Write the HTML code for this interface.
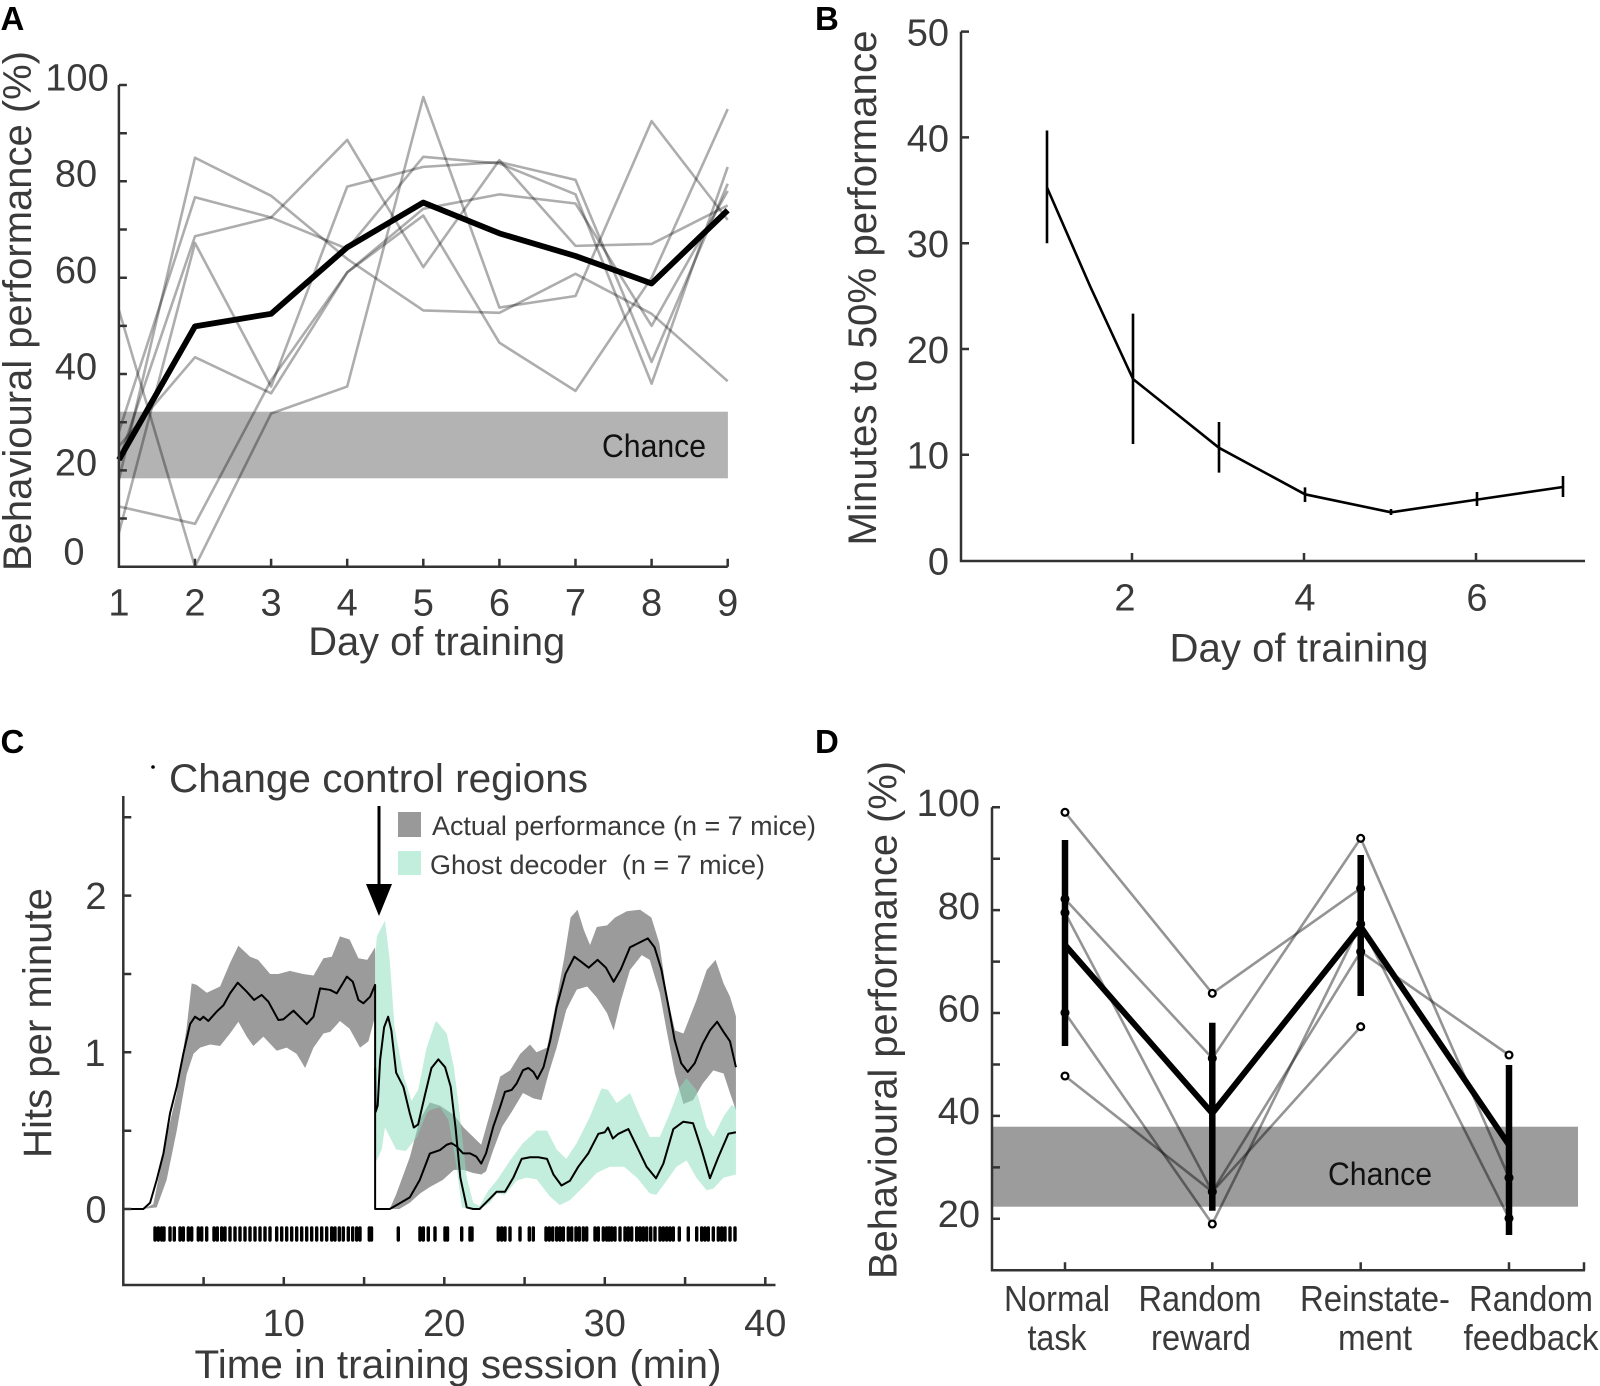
<!DOCTYPE html>
<html><head><meta charset="utf-8"><style>
html,body{margin:0;padding:0;background:#fff;}
svg{display:block;}
text{font-family:"Liberation Sans",Arial,sans-serif;fill:#3a3a3a;}
.pl{font-weight:bold;fill:#000;font-size:33px;}
.tk{font-size:38px;}
.lb{font-size:40px;}
.ax{stroke:#333;stroke-width:2.5;fill:none;}
</style></head><body>
<svg width="1600" height="1386" viewBox="0 0 1600 1386" xmlns="http://www.w3.org/2000/svg">
<rect width="1600" height="1386" fill="#fff"/>

<!-- ================= PANEL A ================= -->
<text class="pl" x="0.5" y="30">A</text>
<rect x="118.9" y="411.7" width="609" height="66.6" fill="#b3b3b3"/>
<text x="654" y="457" text-anchor="middle" font-size="32" textLength="104" lengthAdjust="spacingAndGlyphs" style="fill:#111">Chance</text>
<g transform="matrix(76.1,0,0,-4.817,42.8,566.7)" fill="none" stroke="#000" stroke-opacity="0.32" stroke-width="2.6" stroke-linejoin="round">
<polyline vector-effect="non-scaling-stroke" points="1,53.3 2,0 3,31.8 4,37.4 5,97.5 6,53.8 7,56.2 8,92.5 9,72"/>
<polyline vector-effect="non-scaling-stroke" points="1,12.5 2,8.9 3,38.7 4,61.1 5,74.3 6,77.3 7,75.4 8,50 9,78"/>
<polyline vector-effect="non-scaling-stroke" points="1,18 2,84.9 3,77 4,63.9 5,53.2 6,52.7 7,60.8 8,52.5 9,38.5"/>
<polyline vector-effect="non-scaling-stroke" points="1,28 2,76.7 3,72.5 4,88.6 5,62.2 6,84.4 7,66.6 8,67 9,75"/>
<polyline vector-effect="non-scaling-stroke" points="1,22 2,68.6 3,72.5 4,66 5,85.1 6,83.7 7,77.3 8,38 9,83"/>
<polyline vector-effect="non-scaling-stroke" points="1,7 2,67.2 3,37.4 4,78.9 5,83 6,84 7,80.3 8,42.5 9,79.5"/>
<polyline vector-effect="non-scaling-stroke" points="1,25 2,43.5 3,36 4,61.1 5,72.9 6,46.5 7,36.5 8,60 9,95"/>
<polyline vector-effect="non-scaling-stroke" stroke="#000" stroke-opacity="1" stroke-width="5.8" points="1,22.2 2,49.9 3,52.5 4,66.3 5,75.6 6,69.2 7,64.5 8,58.8 9,74"/>
</g>
<path class="ax" d="M118.9 85V566.7H727.7"/>
<path class="ax" d="M118.9 85h8M118.9 133.2h8M118.9 181.3h8M118.9 229.5h8M118.9 277.7h8M118.9 325.9h8M118.9 374h8M118.9 422.2h8M118.9 470.4h8M118.9 518.5h8
M195 566.7v-8M271.1 566.7v-8M347.2 566.7v-8M423.3 566.7v-8M499.4 566.7v-8M575.5 566.7v-8M651.6 566.7v-8M727.7 566.7v-8"/>
<g class="tk" text-anchor="middle">
<text x="77" y="90.5">100</text><text x="76" y="186.5">80</text><text x="76" y="283">60</text><text x="76" y="379.5">40</text><text x="76" y="475.5">20</text><text x="74" y="564.5">0</text>
<text x="118.9" y="615.5">1</text><text x="195" y="615.5">2</text><text x="271.1" y="615.5">3</text><text x="347.2" y="615.5">4</text><text x="423.3" y="615.5">5</text><text x="499.4" y="615.5">6</text><text x="575.5" y="615.5">7</text><text x="651.6" y="615.5">8</text><text x="727.7" y="615.5">9</text>
</g>
<text class="lb" x="436.7" y="655" text-anchor="middle" textLength="257" lengthAdjust="spacingAndGlyphs">Day of training</text>
<text class="lb" transform="translate(31,311) rotate(-90)" text-anchor="middle" textLength="520" lengthAdjust="spacingAndGlyphs">Behavioural performance (%)</text>

<!-- ================= PANEL B ================= -->
<text class="pl" x="815" y="30">B</text>
<path class="ax" d="M961 31.6V561H1585"/>
<path class="ax" d="M961 31.6h8M961 137.4h8M961 243.2h8M961 349h8M961 454.8h8M1132 561v-8M1304 561v-8M1476 561v-8"/>
<g fill="none" stroke="#000" stroke-width="2.6" stroke-linejoin="round">
<polyline points="1047,187.5 1090,286 1133,379 1219,447.8 1305,494.3 1391,512.3 1477,499.6 1563,487"/>
<path d="M1047 130.5V243.3M1133 313.6V444M1219 422V472.6M1305 487.4V502M1391 509V515M1477 492V506M1563 476V497"/>
</g>
<g class="tk">
<text x="949" y="45.5" text-anchor="end">50</text><text x="949" y="151.3" text-anchor="end">40</text><text x="949" y="257" text-anchor="end">30</text><text x="949" y="363" text-anchor="end">20</text><text x="949" y="468.7" text-anchor="end">10</text><text x="949" y="574.5" text-anchor="end">0</text>
<text x="1125" y="610.5" text-anchor="middle">2</text><text x="1305" y="610.5" text-anchor="middle">4</text><text x="1477" y="610.5" text-anchor="middle">6</text>
</g>
<text class="lb" x="1299" y="661.5" text-anchor="middle" textLength="259" lengthAdjust="spacingAndGlyphs">Day of training</text>
<text class="lb" transform="translate(876,288) rotate(-90)" text-anchor="middle" textLength="515" lengthAdjust="spacingAndGlyphs">Minutes to 50% performance</text>

<!-- ================= PANEL C ================= -->
<text class="pl" x="0.5" y="753">C</text>
<circle cx="153" cy="767" r="1.8" fill="#000"/>
<text class="lb" x="169" y="792" textLength="419" lengthAdjust="spacingAndGlyphs">Change control regions</text>
<g transform="matrix(16.05,0,0,-156.7,123.3,1209)">
<polygon fill="#9b9b9b" points="1.2,0 1.87,0.03 2.3,0.25 2.7,0.46 3.33,0.74 3.95,1.16 4.26,1.44 4.57,1.43 5.2,1.38 6.03,1.42 6.65,1.57 7.17,1.68 7.9,1.61 8.4,1.59 9.15,1.5 9.66,1.5 10.38,1.52 11.2,1.5 11.85,1.49 12.47,1.6 12.99,1.61 13.5,1.74 14.1,1.72 14.65,1.6 15.2,1.59 15.69,1.67 15.69,1.23 15.27,1.07 14.75,1.03 14.1,1.15 13.5,1.2 12.89,1.13 12.47,1.12 11.85,1.03 11.33,0.9 10.8,0.99 10.18,1.03 9.56,1.01 8.73,1.1 8.1,1.04 7.69,1.1 7.17,1.195 6.65,1.12 6.03,1.04 5.41,1.05 4.78,1.03 4.37,0.99 3.95,0.86 3.33,0.5 2.7,0.185 2.08,0.01 1.2,0"/>
<polygon fill="#9b9b9b" points="16.6,0 17.0,0.093 17.85,0.33 18.47,0.57 19.1,0.68 19.73,0.66 20.6,0.6 21.2,0.52 21.8,0.46 22.3,0.41 22.85,0.61 23.48,0.845 24.1,0.885 24.73,0.99 25.34,1.05 25.75,1.0 26.4,1.03 26.8,1.23 27.45,1.59 27.87,1.86 28.3,1.91 28.7,1.78 29.08,1.685 29.5,1.8 30.14,1.81 30.64,1.86 31.37,1.9 32.2,1.91 32.9,1.86 33.4,1.695 33.85,1.376 34.37,1.14 34.9,1.12 35.7,1.33 36.35,1.525 36.9,1.59 37.4,1.44 37.8,1.355 38.17,1.23 38.17,0.63 37.8,0.74 37.4,0.865 36.76,0.885 36.1,0.8 35.5,0.695 34.9,0.67 34.37,0.865 33.85,1.14 33.43,1.376 32.8,1.59 32.3,1.62 31.57,1.525 31.0,1.33 30.55,1.14 30.14,1.25 29.5,1.35 28.9,1.42 28.25,1.4 27.6,1.27 27.0,1.03 26.5,0.865 26.05,0.695 25.55,0.706 24.9,0.74 24.2,0.62 23.6,0.525 23.05,0.376 22.6,0.24 22.3,0.22 21.8,0.23 21.2,0.25 20.6,0.25 19.9,0.185 19.1,0.14 18.5,0.1 17.85,0.04 17.2,0 16.6,0"/>
<polygon fill="rgb(140,220,190)" fill-opacity="0.52" points="15.69,1.6 15.8,1.74 16.3,1.84 16.6,1.59 16.9,1.16 17.45,0.86 17.95,0.69 18.37,0.76 18.9,1.03 19.4,1.18 19.5,1.2 20.15,1.12 20.6,0.905 21.0,0.57 21.4,0.2 21.8,0.04 22.2,0.02 22.75,0.12 23.26,0.18 24.1,0.31 24.9,0.42 25.75,0.5 26.4,0.5 27.0,0.38 27.6,0.32 28.25,0.42 29.08,0.59 29.8,0.77 30.2,0.76 30.74,0.676 31.57,0.74 32.2,0.59 32.8,0.46 33.43,0.46 34.05,0.61 34.68,0.78 35.1,0.834 35.7,0.76 36.35,0.52 36.76,0.46 37.4,0.59 37.9,0.664 38.17,0.65 38.17,0.22 37.4,0.2 36.76,0.13 36.35,0.12 35.7,0.2 35.1,0.31 34.47,0.27 33.85,0.18 33.2,0.09 32.8,0.1 32.0,0.2 31.2,0.27 30.3,0.27 29.49,0.23 28.66,0.14 27.83,0.057 27.2,0.025 26.58,0.08 25.75,0.19 25.1,0.2 24.5,0.18 23.78,0.09 23.26,0.1 22.85,0.04 22.2,0 21.6,0 21.1,0.01 20.7,0.31 20.25,0.57 19.73,0.65 19.1,0.63 18.9,0.61 18.3,0.46 17.6,0.37 17.0,0.38 16.6,0.46 16.3,0.52 16.1,0.38 15.8,0.31 15.69,0.31"/>
<g fill="none" stroke="#000" stroke-width="2" stroke-linejoin="round">
<polyline vector-effect="non-scaling-stroke" points="0,0 1.25,0 1.67,0.04 2.08,0.185 2.5,0.354 2.91,0.61 3.33,0.78 3.74,0.99 4.16,1.18 4.47,1.227 4.78,1.206 4.99,1.227 5.3,1.2 5.82,1.26 6.24,1.3 6.65,1.376 7.13,1.444 7.69,1.387 8.15,1.334 8.62,1.366 9.04,1.323 9.66,1.206 9.97,1.21 10.6,1.266 11.43,1.18 11.85,1.227 12.26,1.408 12.89,1.398 13.3,1.376 13.93,1.483 14.3,1.45 14.65,1.334 14.96,1.313 15.38,1.355 15.69,1.43 15.69,0 16.6,0 17.2,0.035 17.85,0.074 18.47,0.185 19.1,0.354 19.73,0.376 20.15,0.41 20.45,0.42 20.76,0.4 21.17,0.355 21.6,0.355 22.0,0.334 22.3,0.29 22.6,0.355 23.05,0.525 23.48,0.652 23.78,0.748 24.2,0.76 24.5,0.8 24.9,0.885 25.23,0.9 25.55,0.875 25.8,0.83 26.18,0.905 26.6,1.075 27.0,1.29 27.55,1.5 28.1,1.61 28.5,1.58 29.0,1.54 29.55,1.59 30.07,1.54 30.55,1.45 31.0,1.53 31.57,1.67 32.06,1.695 32.68,1.727 33.1,1.67 33.52,1.53 33.93,1.313 34.35,1.08 34.76,0.93 35.17,0.875 35.6,0.93 36.1,1.055 36.55,1.14 37.0,1.195 37.4,1.13 37.8,1.07 38.17,0.905"/>
<polyline vector-effect="non-scaling-stroke" points="15.69,0.9 15.72,0.62 15.85,0.66 16.0,0.95 16.25,1.16 16.5,1.227 16.7,1.14 17.0,0.87 17.45,0.78 17.85,0.61 18.1,0.52 18.37,0.54 18.8,0.73 19.2,0.9 19.63,0.955 20.05,0.905 20.4,0.78 20.7,0.52 21.0,0.2 21.4,0.01 21.8,0 22.2,0 22.75,0.057 23.26,0.11 23.78,0.11 24.3,0.2 24.82,0.32 25.34,0.33 25.86,0.33 26.4,0.32 26.8,0.22 27.3,0.15 27.83,0.18 28.35,0.27 28.97,0.355 29.6,0.48 30.0,0.49 30.2,0.52 30.5,0.45 30.85,0.48 31.47,0.51 31.99,0.4 32.6,0.27 33.19,0.196 33.65,0.29 34.27,0.51 34.89,0.557 35.5,0.547 36.04,0.376 36.55,0.196 37.07,0.33 37.7,0.48 38.17,0.49"/>
</g>
</g>
<path fill="none" stroke="#000" stroke-width="3.4" stroke-linecap="round" d="M155 1228V1240M158.3 1228V1240M161.7 1228V1240M164 1228V1240M170 1228V1240M174.3 1228V1240M180 1228V1240M183.3 1228V1240M188.3 1228V1240M191.7 1228V1240M198.3 1228V1240M201.7 1228V1240M206.7 1228V1240M214 1228V1240M217.3 1228V1240M221.7 1228V1240M225 1228V1240M230 1228V1240M235 1228V1240M240 1228V1240M245 1228V1240M250 1228V1240M255 1228V1240M260 1228V1240M265 1228V1240M270 1228V1240M276.7 1228V1240M281.7 1228V1240M286.7 1228V1240M291.7 1228V1240M296.7 1228V1240M301.7 1228V1240M306.7 1228V1240M311.7 1228V1240M316.7 1228V1240M321.7 1228V1240M326.7 1228V1240M331.7 1228V1240M335 1228V1240M339.3 1228V1240M343.3 1228V1240M348.3 1228V1240M352.7 1228V1240M356.7 1228V1240M360 1228V1240M369.3 1228V1240M371.5 1228V1240M398.3 1228V1240M420 1228V1240M423.3 1228V1240M428.3 1228V1240M435 1228V1240M445 1228V1240M447.5 1228V1240M461.7 1228V1240M470 1228V1240M472 1228V1240M498.3 1228V1240M501.7 1228V1240M505 1228V1240M510 1228V1240M520 1228V1240M529.3 1228V1240M533.3 1228V1240M546 1228V1240M549.3 1228V1240M552.7 1228V1240M556.7 1228V1240M560 1228V1240M563.3 1228V1240M568.3 1228V1240M571.7 1228V1240M576 1228V1240M579.3 1228V1240M583.3 1228V1240M586.7 1228V1240M595 1228V1240M598.3 1228V1240M603.3 1228V1240M606.7 1228V1240M609 1228V1240M611.7 1228V1240M615 1228V1240M620 1228V1240M625 1228V1240M628.3 1228V1240M631.7 1228V1240M636.7 1228V1240M640 1228V1240M643.3 1228V1240M646.7 1228V1240M650.7 1228V1240M655 1228V1240M660 1228V1240M663.3 1228V1240M666.7 1228V1240M670 1228V1240M673.3 1228V1240M679.3 1228V1240M688.3 1228V1240M696.7 1228V1240M701.7 1228V1240M705 1228V1240M708.3 1228V1240M713.3 1228V1240M718.3 1228V1240M721.7 1228V1240M725 1228V1240M730 1228V1240M735 1228V1240"/>
<!-- arrow -->
<path d="M379 806V888" stroke="#000" stroke-width="3"/>
<polygon points="366,884 392,884 379,916" fill="#000"/>
<!-- legend -->
<rect x="398" y="812" width="23" height="25" fill="#999"/>
<rect x="398" y="851" width="23" height="24" fill="#c2eedd"/>
<text x="432" y="835" font-size="27" textLength="384" lengthAdjust="spacingAndGlyphs">Actual performance (n = 7 mice)</text>
<text x="430" y="874" font-size="27" textLength="335" lengthAdjust="spacingAndGlyphs" style="white-space:pre">Ghost decoder  (n = 7 mice)</text>
<!-- axes -->
<path class="ax" d="M123.3 796V1285H775.5"/>
<path class="ax" d="M123.3 1209h8M123.3 1130.7h8M123.3 1052.3h8M123.3 974h8M123.3 895.6h8M123.3 817.3h8
M203.6 1285v-8M283.8 1285v-8M364.1 1285v-8M444.3 1285v-8M524.6 1285v-8M604.8 1285v-8M685.1 1285v-8M765.3 1285v-8"/>
<g class="tk" text-anchor="middle">
<text x="96" y="909">2</text><text x="95" y="1065.8">1</text><text x="96" y="1222.5">0</text>
<text x="283.8" y="1336">10</text><text x="444.3" y="1336">20</text><text x="604.8" y="1336">30</text><text x="765.3" y="1336">40</text>
</g>
<text class="lb" x="458" y="1378" text-anchor="middle" textLength="527" lengthAdjust="spacingAndGlyphs">Time in training session (min)</text>
<text class="lb" transform="translate(51,1023) rotate(-90)" text-anchor="middle" textLength="270" lengthAdjust="spacingAndGlyphs">Hits per minute</text>

<!-- ================= PANEL D ================= -->
<text class="pl" x="815" y="753">D</text>
<rect x="992" y="1126.7" width="586" height="80" fill="#9c9c9c"/>
<text x="1380" y="1185" text-anchor="middle" font-size="32" textLength="104" lengthAdjust="spacingAndGlyphs" style="fill:#111">Chance</text>
<g fill="none" stroke="#000" stroke-opacity="0.42" stroke-width="2.6" stroke-linejoin="round">
<polyline points="1065,812.3 1212.3,993.3 1360.7,888.3"/>
<polyline points="1065,899 1212.3,1058.3 1360.7,838.3 1509,1177.7"/>
<polyline points="1065,912.7 1212.3,1191.7 1360.7,951.7 1509,1055"/>
<polyline points="1065,1012.7 1212.3,1224 1360.7,924 1509,1218.3"/>
<polyline points="1065,1076 1212.3,1191.7 1360.7,1026.7"/>
</g>
<g fill="#fff" stroke="#000" stroke-width="2.3">
<circle cx="1065" cy="812.3" r="3.4"/><circle cx="1065" cy="899" r="3.4"/><circle cx="1065" cy="912.7" r="3.4"/><circle cx="1065" cy="1012.7" r="3.4"/><circle cx="1065" cy="1076" r="3.4"/>
<circle cx="1212.3" cy="993.3" r="3.4"/><circle cx="1212.3" cy="1058.3" r="3.4"/><circle cx="1212.3" cy="1191.7" r="3.4"/><circle cx="1212.3" cy="1224" r="3.4"/>
<circle cx="1360.7" cy="838.3" r="3.4"/><circle cx="1360.7" cy="888.3" r="3.4"/><circle cx="1360.7" cy="924" r="3.4"/><circle cx="1360.7" cy="951.7" r="3.4"/><circle cx="1360.7" cy="1026.7" r="3.4"/>
<circle cx="1509" cy="1055" r="3.4"/><circle cx="1509" cy="1177.7" r="3.4"/><circle cx="1509" cy="1218.3" r="3.4"/>
</g>
<polyline points="1065,945 1212.3,1113.3 1360.7,926.7 1509,1145" fill="none" stroke="#000" stroke-width="6" stroke-linejoin="miter"/>
<path d="M1065 840V1046M1212.3 1022.7V1210.7M1360.7 855V996M1509 1065V1235" stroke="#000" stroke-width="6.5"/>
<path class="ax" d="M992 807.2V1270.3H1585"/>
<path class="ax" d="M992 807.2h8M992 858.7h8M992 910.1h8M992 961.6h8M992 1013h8M992 1064.5h8M992 1115.9h8M992 1167.4h8M992 1218.8h8
M1065 1270.3v-8M1212.3 1270.3v-8M1360.7 1270.3v-8M1509 1270.3v-8M1584 1270.3v-8"/>
<g class="tk" text-anchor="end">
<text x="980" y="816">100</text><text x="980" y="919">80</text><text x="980" y="1021.5">60</text><text x="980" y="1124">40</text><text x="980" y="1227">20</text>
</g>
<g font-size="36" text-anchor="middle">
<text x="1057" y="1311" textLength="106" lengthAdjust="spacingAndGlyphs">Normal</text>
<text x="1057" y="1350" textLength="59" lengthAdjust="spacingAndGlyphs">task</text>
<text x="1200" y="1311" textLength="123" lengthAdjust="spacingAndGlyphs">Random</text>
<text x="1201" y="1350" textLength="100" lengthAdjust="spacingAndGlyphs">reward</text>
<text x="1375" y="1311" textLength="150" lengthAdjust="spacingAndGlyphs">Reinstate-</text>
<text x="1375" y="1350" textLength="74" lengthAdjust="spacingAndGlyphs">ment</text>
<text x="1531" y="1311" textLength="124" lengthAdjust="spacingAndGlyphs">Random</text>
<text x="1531" y="1350" textLength="135" lengthAdjust="spacingAndGlyphs">feedback</text>
</g>
<text class="lb" transform="translate(896.5,1020) rotate(-90)" text-anchor="middle" textLength="518" lengthAdjust="spacingAndGlyphs">Behavioural performance (%)</text>
</svg>
</body></html>
